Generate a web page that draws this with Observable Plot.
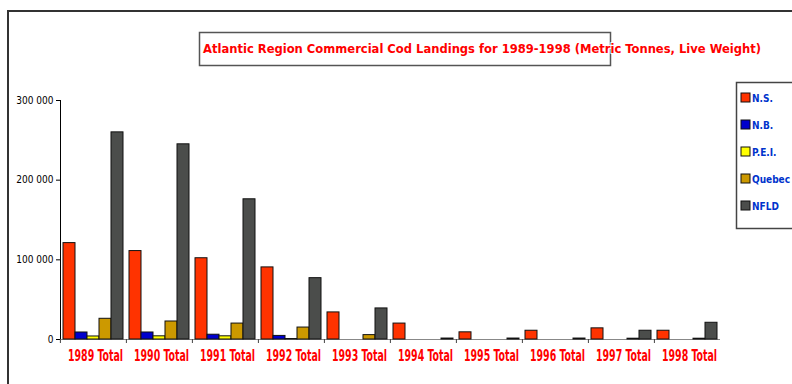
<!DOCTYPE html>
<html><head><meta charset="utf-8">
<script src="https://cdn.jsdelivr.net/npm/d3@7"></script>
<script src="https://cdn.jsdelivr.net/npm/@observablehq/plot@0.6"></script>
<style>
body{margin:0;background:#fff;}
#wrap{position:relative;width:792px;height:384px;overflow:hidden;background:#fff;}
#overlay{position:absolute;left:0;top:0;pointer-events:none;}
</style></head><body><div id="wrap"></div>
<script>
const title = "Atlantic Region Commercial Cod Landings for 1989-1998 (Metric Tonnes, Live Weight)";
const years = ["1989","1990","1991","1992","1993","1994","1995","1996","1997","1998"];
const categories = years.map(y => y + " Total");
const series = ["N.S.","N.B.","P.E.I.","Quebec","NFLD"];
const colors = ["#ff3300","#0000cc","#ffff00","#cc9900","#4b4d4b"];
const nsValues     = [121000,111000,102000,90500,34000,20000,9000,11000,14000,11000];
const nbValues     = [8800,8800,6000,4500,0,0,0,0,0,0];
const peiValues    = [3800,4000,4000,600,0,0,0,0,0,0];
const quebecValues = [26000,22600,20000,15000,5500,0,0,0,1000,1000];
const nfldValues   = [260000,245000,176000,77000,39000,1200,1200,1200,11000,21000];
const yTicks = [0,100000,200000,300000];

const seriesValues = [nsValues, nbValues, peiValues, quebecValues, nfldValues];
const data = [];
categories.forEach((c, i) => series.forEach((s, j) => data.push({category: c, series: s, value: seriesValues[j][i]})));

const W = 792, ML = 59, MR = 71;
const halfGroup = (W - ML - MR) / categories.length / 2;

const plot = Plot.plot({
  width: W, height: 384,
  marginLeft: ML, marginRight: MR, marginTop: 100, marginBottom: 45,
  style: {background: "transparent", fontFamily: "'DejaVu Sans Condensed','DejaVu Sans',sans-serif", color: "#000"},
  fx: {domain: categories, padding: 0},
  x: {domain: series, paddingInner: 0, paddingOuter: 0.25, axis: null},
  y: {domain: [0, 300000], ticks: yTicks, tickSize: 4, tickPadding: 3, line: true, label: null, fontSize: 10,
      tickFormat: d => d3.format(",")(d).replace(/,/g, " ")},
  color: {domain: series, range: colors},
  marks: [
    Plot.ruleY([0], {stroke: "#888", strokeWidth: 1}),
    Plot.barY(data, {fx: "category", x: "series", y: "value", fill: "series", stroke: "#111", strokeWidth: 1, inset: 0}),
    Plot.axisFx({anchor: "bottom", tickSize: 4, tickFormat: () => "", label: null, dx: -halfGroup, stroke: "#444"}),
    Plot.axisFx({anchor: "bottom", tickSize: 0, tickPadding: 11, label: null, fill: "#ff0000", fontSize: 15, fontWeight: "bold", dx: 2})
  ]
});

const wrap = document.getElementById("wrap");
wrap.appendChild(plot);
d3.select(plot).selectAll('g[aria-label="fx-axis tick label"] text')
  .attr("textLength", 55).attr("lengthAdjust", "spacingAndGlyphs")
  .style("font-weight", "bold").attr("fill", "#ff0000");

const ov = d3.select(wrap).append("svg").attr("id", "overlay").attr("width", W).attr("height", 384);
// outer frame
ov.append("rect").attr("x", 8).attr("y", 11).attr("width", 820).attr("height", 420)
  .attr("fill", "none").attr("stroke", "#333").attr("stroke-width", 2);
// title box
ov.append("rect").attr("x", 199.5).attr("y", 32.5).attr("width", 411).attr("height", 33)
  .attr("fill", "none").attr("stroke", "#555").attr("stroke-width", 1.5);
ov.append("text").attr("x", 203).attr("y", 53).text(title)
  .attr("fill", "#ff0000").attr("font-family", "'DejaVu Sans Condensed','DejaVu Sans',sans-serif")
  .attr("font-weight", "bold").attr("font-size", 13)
  .attr("textLength", 558).attr("lengthAdjust", "spacingAndGlyphs")
  .attr("stroke", "#fff").attr("stroke-width", 2).attr("paint-order", "stroke");
// legend
ov.append("rect").attr("x", 736.5).attr("y", 82.5).attr("width", 80).attr("height", 146)
  .attr("fill", "#fff").attr("stroke", "#444").attr("stroke-width", 1.5);
const lg = ov.selectAll("g.lg").data(series).join("g").attr("class", "lg")
  .attr("transform", (d, i) => `translate(741,${93 + i * 27})`);
lg.append("rect").attr("width", 9).attr("height", 9).attr("fill", (d, i) => colors[i]).attr("stroke", "#111");
lg.append("text").attr("x", 11).attr("y", 8.5).text(d => d)
  .attr("fill", "#0033cc").attr("font-family", "'DejaVu Sans Condensed','DejaVu Sans',sans-serif")
  .attr("font-weight", "bold").attr("font-size", 10);
</script></body></html>
